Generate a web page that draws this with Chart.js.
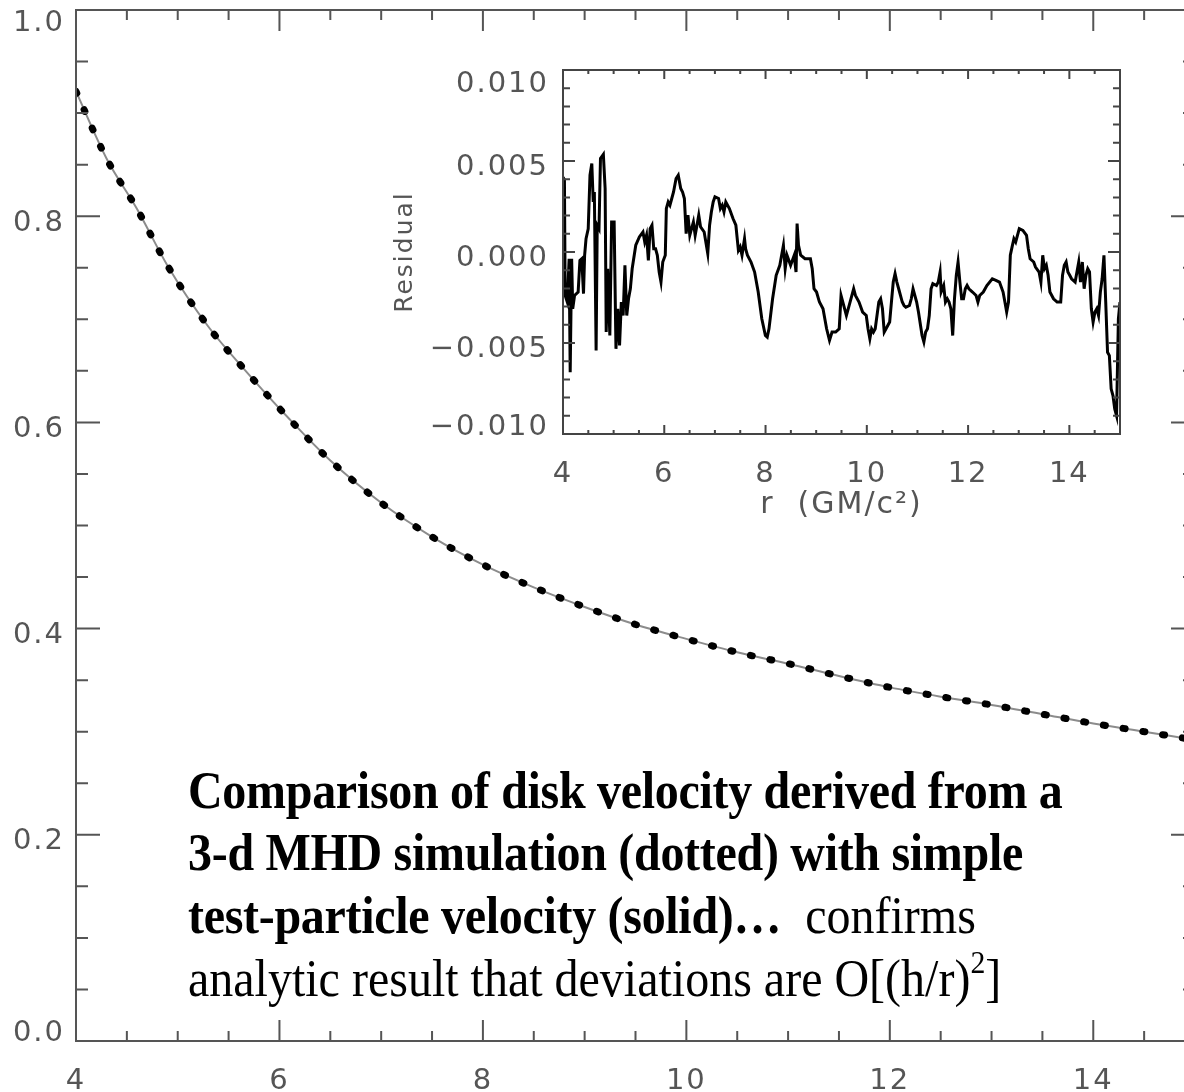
<!DOCTYPE html>
<html>
<head>
<meta charset="utf-8">
<script src="https://cdn.jsdelivr.net/npm/chart.js@4.4.1/dist/chart.umd.min.js"></script>
<style>
  html, body { margin: 0; padding: 0; background: #fff; overflow: hidden; width: 1184px; height: 1092px; }
  #main { position: absolute; left: 0; top: 0; }
  #inset { position: absolute; left: 380px; top: 50px; }
  #note {
    position: absolute; left: 188px; top: 759px;
    font-family: "Liberation Serif", "Times New Roman", serif;
    font-size: 48px; line-height: 57.9px; color: #000; white-space: nowrap;
    transform: scaleY(1.08); transform-origin: left top;
  }
  #note b { letter-spacing: -0.3px; }
  #note .gap { margin-left: 12px; }
  #note sup { font-size: 0.62em; vertical-align: 0.7em; line-height: 0; }
</style>
</head>
<body>
<canvas id="main" width="1230" height="1092"></canvas>
<canvas id="inset" width="760" height="490"></canvas>
<div id="note"><b>Comparison of disk velocity derived from a<br>3-d MHD simulation (dotted) with simple<br>test-particle velocity (solid)…</b> <span class="gap">confirms</span><br>analytic result that deviations are O[(h/r)<sup>2</sup>]</div>
<script>
// main panel: orbital velocity vs radius
const radius = [4.0, 4.3, 4.6, 4.9, 5.3, 5.65, 6.1, 6.5, 7.0, 7.5, 8.0, 8.5, 9.0, 9.5,
  10.0, 10.5, 11.0, 11.5, 12.0, 12.5, 13.0, 13.5, 14.0, 14.5, 15.0];
const mhdVelocity = [0.921, 0.856, 0.807, 0.752, 0.693, 0.652, 0.603, 0.563, 0.522, 0.489,
  0.462, 0.440, 0.421, 0.404, 0.390, 0.377, 0.366, 0.354, 0.343, 0.334, 0.326, 0.317, 0.308, 0.300, 0.292];
const testVelocity = [0.921, 0.856, 0.807, 0.752, 0.693, 0.652, 0.603, 0.563, 0.522, 0.489,
  0.462, 0.440, 0.421, 0.404, 0.390, 0.377, 0.366, 0.354, 0.343, 0.334, 0.326, 0.317, 0.308, 0.300, 0.292];

// inset: residual (MHD - test particle)
const residualRadius = [
  4.000, 4.007, 4.028, 4.043, 4.085, 4.121, 4.142, 4.171, 4.192, 4.228,
  4.299, 4.334, 4.370, 4.405, 4.427, 4.455, 4.498, 4.533, 4.569, 4.597,
  4.619, 4.654, 4.676, 4.711, 4.740, 4.797, 4.832, 4.853, 4.882, 4.925,
  4.960, 5.010, 5.046, 5.081, 5.117, 5.152, 5.188, 5.223, 5.259, 5.294,
  5.330, 5.366, 5.437, 5.508, 5.579, 5.614, 5.650, 5.686, 5.721, 5.757,
  5.792, 5.828, 5.863, 5.899, 5.935, 5.970, 6.020, 6.041, 6.077, 6.112,
  6.148, 6.183, 6.233, 6.276, 6.325, 6.361, 6.397, 6.432, 6.468, 6.504,
  6.539, 6.575, 6.610, 6.646, 6.681, 6.717, 6.788, 6.859, 6.895, 6.930,
  6.966, 7.001, 7.072, 7.108, 7.144, 7.179, 7.215, 7.286, 7.357, 7.414,
  7.464, 7.499, 7.535, 7.585, 7.606, 7.642, 7.713, 7.784, 7.855, 7.926,
  7.997, 8.033, 8.068, 8.139, 8.210, 8.282, 8.353, 8.388, 8.424, 8.495,
  8.566, 8.602, 8.623, 8.651, 8.694, 8.779, 8.886, 8.922, 8.957, 9.007,
  9.064, 9.135, 9.206, 9.263, 9.313, 9.384, 9.455, 9.491, 9.562, 9.597,
  9.669, 9.740, 9.775, 9.846, 9.917, 9.989, 10.024, 10.060, 10.095, 10.131,
  10.166, 10.237, 10.273, 10.309, 10.344, 10.380, 10.451, 10.486, 10.522, 10.558,
  10.593, 10.629, 10.700, 10.735, 10.771, 10.842, 10.878, 10.913, 10.984, 11.020,
  11.091, 11.127, 11.162, 11.198, 11.233, 11.269, 11.304, 11.375, 11.411, 11.447,
  11.468, 11.518, 11.553, 11.589, 11.624, 11.660, 11.696, 11.731, 11.767, 11.802,
  11.838, 11.873, 11.909, 11.945, 11.980, 12.016, 12.087, 12.158, 12.194, 12.229,
  12.300, 12.371, 12.478, 12.549, 12.620, 12.691, 12.727, 12.762, 12.798, 12.834,
  12.869, 12.905, 12.940, 13.011, 13.082, 13.154, 13.189, 13.225, 13.296, 13.331,
  13.402, 13.438, 13.474, 13.509, 13.545, 13.580, 13.616, 13.687, 13.758, 13.829,
  13.865, 13.900, 13.936, 13.971, 14.007, 14.043, 14.114, 14.185, 14.220, 14.256,
  14.292, 14.327, 14.363, 14.398, 14.434, 14.469, 14.505, 14.541, 14.576, 14.612,
  14.647, 14.683, 14.718, 14.754, 14.790, 14.825, 14.861, 14.896, 14.932, 14.968, 15.000
];
const residual = [
  0.00413, -0.00239, 0.00404, -0.00239, -0.00275, -0.00037, -0.00661, -0.00037, -0.00312, -0.00239,
  -0.00220, -0.00046, -0.00037, -0.00229, -0.00018, 0.00073, 0.00128, 0.00422, 0.00486, 0.00275,
  0.00330, -0.00541, 0.00147, 0.00128, 0.00514, 0.00536, 0.00349, -0.00440, -0.00092, -0.00459,
  0.00165, 0.00165, -0.00532, -0.00312, -0.00514, -0.00275, -0.00349, -0.00073, -0.00349, -0.00257,
  -0.00202, -0.00092, 0.00037, 0.00083, 0.00110, 0.00055, 0.00092, -0.00046, 0.00128, 0.00147,
  0.00018, 0.00018, -0.00018, -0.00110, -0.00165, -0.00055, -0.00018, 0.00239, 0.00275, 0.00257,
  0.00294, 0.00330, 0.00404, 0.00422, 0.00349, 0.00330, 0.00294, 0.00101, 0.00202, 0.00092,
  0.00128, 0.00165, 0.00092, 0.00147, 0.00202, 0.00138, 0.00110, -0.00009, 0.00147, 0.00220,
  0.00275, 0.00303, 0.00294, 0.00239, 0.00257, 0.00220, 0.00275, 0.00239, 0.00184, 0.00147,
  0.00009, 0.00028, -0.00018, 0.00073, 0.00018, -0.00018, -0.00055, -0.00110, -0.00220, -0.00367,
  -0.00459, -0.00468, -0.00422, -0.00257, -0.00128, -0.00073, 0.00037, -0.00092, -0.00018, -0.00073,
  -0.00018, -0.00110, 0.00156, 0.00037, -0.00018, -0.00037, -0.00037, -0.00092, -0.00202, -0.00220,
  -0.00275, -0.00312, -0.00422, -0.00486, -0.00440, -0.00440, -0.00422, -0.00239, -0.00312, -0.00349,
  -0.00275, -0.00202, -0.00239, -0.00275, -0.00330, -0.00349, -0.00422, -0.00477, -0.00422, -0.00440,
  -0.00422, -0.00275, -0.00257, -0.00312, -0.00440, -0.00422, -0.00385, -0.00275, -0.00165, -0.00119,
  -0.00165, -0.00202, -0.00275, -0.00294, -0.00303, -0.00294, -0.00257, -0.00202, -0.00275, -0.00330,
  -0.00459, -0.00495, -0.00440, -0.00422, -0.00349, -0.00202, -0.00174, -0.00184, -0.00165, -0.00110,
  -0.00220, -0.00184, -0.00275, -0.00257, -0.00275, -0.00312, -0.00459, -0.00257, -0.00128, -0.00055,
  -0.00165, -0.00257, -0.00257, -0.00202, -0.00184, -0.00202, -0.00220, -0.00239, -0.00275, -0.00239,
  -0.00220, -0.00184, -0.00147, -0.00156, -0.00165, -0.00220, -0.00275, -0.00330, -0.00275, -0.00018,
  0.00028, 0.00073, 0.00055, 0.00128, 0.00119, 0.00092, 0.00018, -0.00037, -0.00055, -0.00083,
  -0.00110, -0.00165, -0.00018, -0.00092, -0.00073, -0.00128, -0.00220, -0.00257, -0.00275, -0.00275,
  -0.00128, -0.00073, -0.00055, -0.00110, -0.00128, -0.00147, -0.00165, -0.00055, -0.00165, -0.00055,
  -0.00202, -0.00128, -0.00092, -0.00110, -0.00312, -0.00385, -0.00330, -0.00312, -0.00349, -0.00220,
  -0.00147, -0.00018, -0.00275, -0.00551, -0.00569, -0.00752, -0.00789, -0.00862, -0.00899, -0.00367, -0.00275
];

const tickColor = "#555";
const FONT = "DejaVu Sans";
const TICK_SIZE = 29;

function isMultiple(v, step) {
  const q = v / step;
  return Math.abs(q - Math.round(q)) < 1e-6;
}

// IDL puts the end labels of a vertical axis inside the box;
// an empty extra line with a per-tick line height nudges them in
function yLabel(min, max, fmt) {
  const eps = (max - min) * 1e-6;
  return (v) => {
    const s = fmt(v);
    if (Math.abs(v - max) < eps) return ["", s];
    if (Math.abs(v - min) < eps) return [s, ""];
    return s;
  };
}
function yFont(min, max, topLH, bottomLH) {
  const eps = (max - min) * 1e-6;
  return (c) => {
    let lh = 1.2;
    const v = c && c.tick ? c.tick.value : null;
    if (v !== null && Math.abs(v - max) < eps) lh = topLH + "px";
    else if (v !== null && Math.abs(v - min) < eps) lh = bottomLH + "px";
    return { family: FONT, size: TICK_SIZE, lineHeight: lh };
  };
}

// IDL-style box: frame plus inward ticks on all four sides
function boxTicks(o) {
  return {
    id: "boxTicks",
    beforeDraw(chart) {
      chart.ctx.letterSpacing = "2px";
    },
    afterDraw(chart) {
      const { ctx, chartArea: a } = chart;
      const xs = chart.scales.x, ys = chart.scales.y;
      ctx.save();
      ctx.strokeStyle = o.color;
      ctx.lineWidth = o.lineWidth;
      ctx.beginPath();
      const nx = Math.round((xs.max - xs.min) / o.xMinor);
      for (let i = 0; i <= nx; i++) {
        const v = xs.min + i * o.xMinor;
        const px = xs.getPixelForValue(v);
        const len = isMultiple(v, o.xMajor) ? o.xLen[0] : o.xLen[1];
        ctx.moveTo(px, a.bottom); ctx.lineTo(px, a.bottom - len);
        ctx.moveTo(px, a.top); ctx.lineTo(px, a.top + len);
      }
      const ny = Math.round((ys.max - ys.min) / o.yMinor);
      for (let i = 0; i <= ny; i++) {
        const v = ys.min + i * o.yMinor;
        const py = ys.getPixelForValue(v);
        const len = isMultiple(v, o.yMajor) ? o.yLen[0] : o.yLen[1];
        ctx.moveTo(a.left, py); ctx.lineTo(a.left + len, py);
        ctx.moveTo(a.right, py); ctx.lineTo(a.right - len, py);
      }
      ctx.stroke();
      ctx.strokeRect(a.left, a.top, a.right - a.left, a.bottom - a.top);
      ctx.restore();
    }
  };
}

function noPad(s) {
  s.paddingLeft = 0; s.paddingRight = 0; s.paddingTop = 0; s.paddingBottom = 0;
}

const hidden = { display: false, drawTicks: false };

new Chart(document.getElementById("main"), {
  type: "line",
  data: {
    datasets: [
      {
        label: "MHD simulation",
        data: radius.map((r, i) => ({ x: r, y: mhdVelocity[i] })),
        borderColor: "#000",
        borderWidth: 7,
        borderDash: [2, 18],
        borderCapStyle: "round",
        pointRadius: 0,
        cubicInterpolationMode: "monotone"
      },
      {
        label: "test particle",
        data: radius.map((r, i) => ({ x: r, y: testVelocity[i] })),
        borderColor: "#8c8c8c",
        borderWidth: 2,
        pointRadius: 0,
        cubicInterpolationMode: "monotone"
      }
    ]
  },
  options: {
    responsive: false,
    animation: false,
    events: [],
    layout: { padding: { top: 10, right: 35, left: 0, bottom: 0 } },
    plugins: { legend: { display: false }, tooltip: { enabled: false } },
    scales: {
      x: {
        type: "linear", min: 4, max: 15,
        grid: hidden, border: { display: false },
        ticks: {
          stepSize: 2, autoSkip: false, maxRotation: 0, padding: 23,
          color: tickColor, font: { family: FONT, size: TICK_SIZE },
          callback: (v) => (isMultiple(v, 2) ? String(v) : null)
        },
        afterFit: (s) => { s.height = 51; noPad(s); }
      },
      y: {
        min: 0, max: 1,
        grid: hidden, border: { display: false },
        ticks: {
          stepSize: 0.2, padding: 11, labelOffset: 7,
          color: tickColor, font: yFont(0, 1, 12, 30),
          callback: yLabel(0, 1, (v) => v.toFixed(1))
        },
        afterFit: (s) => { s.width = 76; noPad(s); }
      }
    }
  },
  plugins: [boxTicks({
    color: "#555", lineWidth: 2,
    xMinor: 0.5, xMajor: 2, xLen: [21, 10],
    yMinor: 0.05, yMajor: 0.2, yLen: [24, 12]
  })]
});

new Chart(document.getElementById("inset"), {
  type: "line",
  data: {
    datasets: [{
      label: "Residual",
      data: residualRadius.map((r, i) => ({ x: r, y: residual[i] })),
      borderColor: "#000",
      borderWidth: 3,
      pointRadius: 0,
      tension: 0
    }]
  },
  options: {
    responsive: false,
    animation: false,
    events: [],
    layout: { padding: { top: 20, right: 20, left: 0, bottom: 0 } },
    plugins: { legend: { display: false }, tooltip: { enabled: false } },
    scales: {
      x: {
        type: "linear", min: 4, max: 15,
        grid: hidden, border: { display: false },
        ticks: {
          stepSize: 2, autoSkip: false, maxRotation: 0, padding: 23,
          color: tickColor, font: { family: FONT, size: TICK_SIZE },
          callback: (v) => (isMultiple(v, 2) ? String(v) : null)
        },
        title: {
          display: true, text: "r  (GM/c²)", color: tickColor,
          font: { family: FONT, size: 30 },
          padding: { top: 0, bottom: 17 }
        },
        afterFit: (s) => { s.height = 106; noPad(s); }
      },
      y: {
        min: -0.01, max: 0.01,
        grid: hidden, border: { display: false },
        ticks: {
          stepSize: 0.005, padding: 14, labelOffset: 6,
          color: tickColor, font: yFont(-0.01, 0.01, 16, 26),
          callback: yLabel(-0.01, 0.01, (v) => {
            if (Math.abs(v) < 1e-9) return "0.000";
            return (v < 0 ? "\u2212" : "") + Math.abs(v).toFixed(3);
          })
        },
        title: {
          display: true, text: "Residual", color: tickColor,
          font: { family: FONT, size: 25 },
          padding: { top: 10, bottom: 0 }
        },
        afterFit: (s) => { s.width = 183; noPad(s); }
      }
    }
  },
  plugins: [boxTicks({
    color: "#444", lineWidth: 2,
    xMinor: 0.5, xMajor: 2, xLen: [9, 4],
    yMinor: 0.001, yMajor: 0.005, yLen: [12, 7]
  })]
});
</script>
</body>
</html>
